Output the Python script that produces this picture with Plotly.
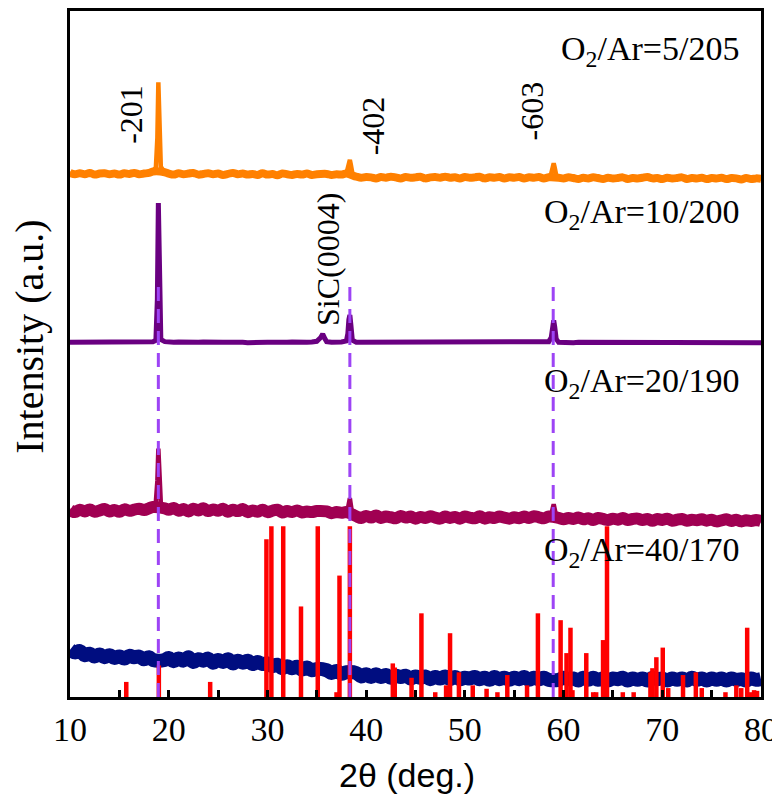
import plotly.graph_objects as go

# 2theta grid shared by the four measured patterns (denser around the peaks)
two_theta = [
    10.0, 10.5, 11.0, 11.5, 12.0, 12.5, 13.0, 13.5, 14.0, 14.5, 15.0, 15.5, 16.0, 16.5, 17.0, 17.5, 18.0,
    18.4, 18.7, 18.85, 18.95, 19.05, 19.2, 19.6,
    20.0, 20.5, 21.0, 21.5, 22.0, 22.5, 23.0, 23.5, 24.0, 24.5, 25.0, 25.5, 26.0, 26.5, 27.0, 27.5,
    28.0, 28.5, 29.0, 29.5, 30.0, 30.5, 31.0, 31.5, 32.0, 32.5, 33.0, 33.5, 34.0, 34.5, 35.0,
    35.4, 35.6, 35.8,
    36.0, 36.5, 37.0, 37.5, 38.0,
    38.15, 38.25, 38.35, 38.45, 38.6,
    39.0, 39.5, 40.0, 40.5, 41.0, 41.5, 42.0, 42.5, 43.0, 43.5, 44.0, 44.5, 45.0, 45.5, 46.0, 46.5,
    47.0, 47.5, 48.0, 48.5, 49.0, 49.5, 50.0, 50.5, 51.0, 51.5, 52.0, 52.5, 53.0, 53.5, 54.0, 54.5,
    55.0, 55.5, 56.0, 56.5, 57.0, 57.5, 58.0, 58.5,
    58.75, 58.9, 59.0, 59.1, 59.25,
    59.5, 60.0, 60.5, 61.0, 61.5, 62.0, 62.5, 63.0, 63.5, 64.0, 64.5, 65.0, 65.5, 66.0, 66.5, 67.0,
    67.5, 68.0, 68.5, 69.0, 69.5, 70.0, 70.5, 71.0, 71.5, 72.0, 72.5, 73.0, 73.5, 74.0, 74.5, 75.0,
    75.5, 76.0, 76.5, 77.0, 77.5, 78.0, 78.5, 79.0, 79.5, 80.0,
]

# O2/Ar = 5/205
int_5_205 = [
    76.4, 76.2, 76.35, 76.2, 76.4, 76.15, 76.3, 76.35, 76.2, 76.3, 76.15, 76.35, 76.25, 76.4, 76.2, 76.3, 76.4,
    76.6, 77.2, 81.5, 89.6, 82.2, 77.3, 76.5,
    76.3, 76.15, 76.35, 76.2, 76.3, 76.4, 76.15, 76.25, 76.35, 76.2,
    76.3, 76.1, 76.25, 76.4, 76.2, 76.3, 76.15, 76.25, 76.1, 76.35,
    76.15, 76.25, 76.05, 76.3, 76.2, 76.1, 76.25, 76.15, 76.3, 76.1, 76.2,
    76.15, 76.25, 76.1,
    76.25, 76.1, 76.2, 76.15, 76.3,
    77.0, 78.0, 78.3, 77.6, 76.4,
    75.85, 75.7, 75.8, 75.75, 75.6, 75.8, 75.7, 75.85, 75.75, 75.6,
    75.8, 75.7, 75.75, 75.85, 75.6, 75.75, 75.8, 75.7, 75.85, 75.7,
    75.75, 75.6, 75.8, 75.7, 75.75, 75.85, 75.6, 75.75, 75.7, 75.8,
    75.6, 75.75, 75.7, 75.8, 75.6, 75.75, 75.7, 75.8, 75.6, 75.75,
    76.3, 77.4, 77.8, 77.2, 76.1,
    75.7, 75.6, 75.75, 75.65, 75.5, 75.7, 75.6, 75.75, 75.65, 75.5,
    75.7, 75.6, 75.65, 75.75, 75.5, 75.65, 75.6, 75.7, 75.8, 75.6,
    75.65, 75.5, 75.7, 75.6, 75.65, 75.75, 75.5, 75.65, 75.6, 75.7,
    75.5, 75.65, 75.6, 75.7, 75.5, 75.65, 75.6, 75.45, 75.65, 75.5,
    75.6, 75.55,
]

# O2/Ar = 10/200
int_10_200 = [
    51.7, 51.7, 51.75, 51.7, 51.7, 51.7, 51.65, 51.7, 51.7, 51.75, 51.7, 51.7, 51.7, 51.65, 51.7, 51.7, 51.75,
    51.8, 52.0, 58.0, 72.0, 58.5, 52.1, 51.8,
    51.7, 51.7, 51.75, 51.7, 51.65, 51.7, 51.7, 51.75, 51.7, 51.7,
    51.65, 51.7, 51.7, 51.75, 51.7, 51.7, 51.65, 51.7, 51.7, 51.75,
    51.7, 51.7, 51.65, 51.7, 51.7, 51.75, 51.7, 51.7, 51.7, 51.75, 51.85,
    52.4, 52.9, 52.3,
    51.8, 51.7, 51.7, 51.75, 51.9,
    53.0, 55.0, 55.7, 54.3, 52.0,
    51.7, 51.7, 51.75, 51.7, 51.65, 51.7, 51.7, 51.75, 51.7, 51.7,
    51.65, 51.7, 51.7, 51.75, 51.7, 51.65, 51.7, 51.7, 51.75, 51.7,
    51.7, 51.65, 51.7, 51.7, 51.75, 51.7, 51.7, 51.65, 51.7, 51.7,
    51.75, 51.7, 51.65, 51.7, 51.7, 51.75, 51.7, 51.7, 51.7, 51.8,
    52.4, 54.2, 54.9, 54.0, 52.2,
    51.7, 51.65, 51.7, 51.65, 51.7, 51.7, 51.65, 51.7, 51.65, 51.7,
    51.65, 51.7, 51.65, 51.7, 51.65, 51.65, 51.7, 51.65, 51.7, 51.65,
    51.65, 51.7, 51.65, 51.65, 51.7, 51.65, 51.65, 51.7, 51.65, 51.65,
    51.7, 51.65, 51.65, 51.7, 51.65, 51.65, 51.7, 51.65, 51.65, 51.65,
    51.65, 51.65,
]

# O2/Ar = 20/190
int_20_190 = [
    27.25, 26.95, 27.3, 27.05, 27.35, 27.0, 27.2, 27.4, 27.05, 27.25, 27.0, 27.35, 27.15, 27.3, 27.45, 27.25, 27.5,
    27.7, 28.5, 31.5, 36.2, 31.0, 28.3, 27.5,
    27.3, 27.55, 27.15, 27.4, 27.05, 27.45, 27.2, 27.5, 27.1, 27.35,
    27.15, 27.45, 27.0, 27.3, 27.1, 27.4, 26.95, 27.2, 27.0, 27.3,
    26.95, 27.15, 27.3, 26.9, 27.1, 26.95, 27.2, 26.9, 27.05, 26.95, 27.1,
    26.9, 27.05, 26.9,
    27.05, 26.8, 26.95, 26.85, 26.95,
    27.5, 28.5, 29.0, 28.0, 26.6,
    26.35, 26.1, 26.4, 26.15, 26.45, 26.1, 26.3, 26.2, 26.05, 26.4,
    26.15, 26.3, 26.0, 26.25, 26.1, 26.35, 26.15, 26.0, 26.3, 26.1,
    26.25, 26.0, 26.3, 26.15, 26.05, 26.35, 26.0, 26.2, 26.1, 26.3,
    26.15, 26.0, 26.2, 26.05, 26.3, 26.1, 26.35, 26.2, 26.05, 26.3,
    26.6, 27.5, 28.1, 27.4, 26.4,
    26.1, 25.9, 26.1, 25.95, 26.15, 25.9, 26.05, 25.8, 26.1, 25.95,
    25.8, 26.0, 25.85, 26.1, 25.8, 25.95, 26.0, 25.8, 25.95, 25.7,
    25.95, 25.8, 26.0, 25.7, 25.85, 25.95, 25.7, 25.85, 25.75, 25.9,
    25.7, 25.85, 25.6, 25.75, 25.9, 25.65, 25.85, 25.6, 25.75, 25.65,
    25.8, 25.65,
]

# O2/Ar = 40/170
int_40_170 = [
    6.9, 6.5, 6.7, 6.1, 6.3, 5.9, 6.2, 5.8, 6.1, 5.7, 5.9, 5.6, 6.0, 5.8, 5.9, 5.5, 5.8,
    5.4, 5.9, 5.5, 5.8, 5.3, 5.9, 5.4,
    5.7, 5.2, 5.6, 5.3, 5.8, 5.1, 5.5, 5.3, 5.6, 5.0,
    5.4, 5.1, 5.5, 4.9, 5.3, 5.0, 5.3, 4.8, 5.1, 4.8,
    4.9, 4.5, 4.7, 4.2, 4.5, 4.2, 4.4, 4.0, 4.3, 3.9, 4.1,
    3.8, 4.1, 3.7,
    3.9, 3.5, 3.8, 3.4, 3.6,
    3.3, 3.6, 3.2, 3.5, 3.2,
    3.5, 3.0, 3.3, 2.9, 3.3, 2.9, 3.2, 2.8, 3.1, 2.9,
    3.1, 2.7, 3.0, 2.8, 3.0, 2.6, 2.9, 2.7, 3.0, 2.6,
    2.9, 2.6, 2.8, 2.7, 2.9, 2.6, 2.8, 2.5, 2.9, 2.6,
    2.8, 2.5, 2.8, 2.6, 2.9, 2.5, 2.8, 2.6, 2.8, 2.5,
    2.8, 2.5, 2.8, 2.6, 2.7,
    2.5, 2.8, 2.6, 2.7, 2.4, 2.8, 2.5, 2.8, 2.5, 2.7,
    2.4, 2.7, 2.6, 2.8, 2.4, 2.7, 2.5, 2.7, 2.4, 2.8,
    2.6, 2.7, 2.4, 2.7, 2.5, 2.7, 2.4, 2.8, 2.5, 2.7,
    2.4, 2.7, 2.5, 2.7, 2.4, 2.7, 2.5, 2.6, 2.4, 2.7,
    2.5, 2.6,
]

# standard card (red sticks)
ref_pos = [15.7, 19.0, 24.2, 29.9, 30.4, 31.6, 33.4, 35.1, 37.0, 37.3, 38.35, 42.7, 42.9, 44.6,
           45.6, 47.0, 48.1, 48.5, 49.4, 50.8, 52.2, 53.3, 54.3, 56.3, 57.4, 59.7, 60.3, 60.7,
           60.9, 62.3, 63.0, 63.3, 64.0, 64.4, 66.0, 67.1, 68.8, 69.0, 69.4, 70.05, 70.6, 72.1,
           73.4, 74.0, 76.4, 77.5, 78.0, 78.6, 79.0, 79.3, 79.6]
ref_int = [2.2, 4.6, 2.2, 23.0, 24.9, 24.9, 13.2, 24.9, 0.7, 17.7, 24.9, 4.9, 4.3, 2.8,
           12.2, 0.7, 1.7, 9.3, 3.6, 1.7, 1.2, 0.7, 3.2, 1.7, 12.2, 11.2, 6.4, 10.1,
           1.0, 6.4, 0.7, 0.7, 8.3, 24.9, 0.7, 0.7, 3.6, 4.2, 5.8, 7.2, 1.3, 3.2,
           3.6, 1.3, 0.7, 1.7, 1.3, 10.1, 0.7, 1.0, 0.9]

# Ga2O3 planes marked with dashed lines
plane_pos = [18.95, 38.35, 58.95]
plane_labels = ["-201", "-402", "-603"]
sample_labels = ["O<sub>2</sub>/Ar=5/205", "O<sub>2</sub>/Ar=10/200",
                 "O<sub>2</sub>/Ar=20/190", "O<sub>2</sub>/Ar=40/170"]

# 2theta windows holding the diffraction peaks
peak_windows = [(18.6, 19.4), (35.3, 35.9), (38.1, 38.7), (58.7, 59.35)]

serif = "Liberation Serif"


def off_peak(x):
    return all(not (a < x < b) for a, b in peak_windows)


fig = go.Figure()
# (values, colour, width of the noisy band, width of the peak line)
curves = [(int_40_170, "#000d80", 14, None), (int_20_190, "#a00052", 12, 4.5),
          (int_10_200, "#6a0081", None, 5), (int_5_205, "#ff8000", 8, 4.5)]
for yy, col, band_w, peak_w in curves:
    if band_w:
        bx = [x for x in two_theta if off_peak(x)]
        by = [y for x, y in zip(two_theta, yy) if off_peak(x)]
        fig.add_trace(go.Scatter(x=bx, y=by, mode="lines",
                                 line=dict(color=col, width=band_w, shape="spline", smoothing=1),
                                 showlegend=False))
    if peak_w:
        fig.add_trace(go.Scatter(x=two_theta, y=yy, mode="lines",
                                 line=dict(color=col, width=peak_w), showlegend=False))

# sticks as line segments so they sit on top of the curves
sx, sy = [], []
for p, h in zip(ref_pos, ref_int):
    sx += [p, p, None]
    sy += [0, h, None]
fig.add_trace(go.Scatter(x=sx, y=sy, mode="lines",
                         line=dict(color="#ff0000", width=4.5), showlegend=False))

dx, dy = [], []
for p in plane_pos:
    dx += [p, p, None]
    dy += [0, 60, None]
fig.add_trace(go.Scatter(x=dx, y=dy, mode="lines",
                         line=dict(color="#9d44f5", width=3, dash="14px,8px"), showlegend=False))

for txt, yv in zip(sample_labels, [94.2, 70.4, 45.8, 21.2]):
    fig.add_annotation(x=78.0, y=yv, text=txt, showarrow=False, xanchor="right",
                       yanchor="middle", font=dict(family=serif, size=34, color="black"))

for txt, xv, yv in zip(plane_labels + ["SiC(0004)"], [16.1, 40.7, 56.8, 36.2],
                       [84.9, 83.2, 85.5, 63.8]):
    fig.add_annotation(x=xv, y=yv, text=txt, showarrow=False, textangle=-90,
                       xanchor="center", yanchor="middle",
                       font=dict(family=serif, size=32, color="black"))

fig.add_annotation(x=-0.058, y=0.525, xref="paper", yref="paper", text="Intensity (a.u.)",
                   showarrow=False, textangle=-90, xanchor="center", yanchor="middle",
                   font=dict(family=serif, size=40, color="black"))
fig.add_annotation(x=0.488, y=-0.114, xref="paper", yref="paper", text="2θ (deg.)",
                   showarrow=False, xanchor="center", yanchor="middle",
                   font=dict(family="Liberation Sans", size=34, color="black"))

fig.update_xaxes(range=[10, 80], dtick=10, ticks="inside", ticklen=7, tickwidth=2.5,
                 tickcolor="black", showline=True, linecolor="black", linewidth=3, mirror=True,
                 showgrid=False, zeroline=False,
                 minor=dict(dtick=5, ticks="inside", ticklen=7, tickwidth=2.5, tickcolor="black"),
                 tickfont=dict(family=serif, size=34, color="black"))
fig.update_yaxes(range=[0, 100], showticklabels=False, ticks="", showline=True,
                 linecolor="black", linewidth=3, mirror=True, showgrid=False, zeroline=False)
# page body adds 8px around the figure, so the figure is 8px smaller than the window
fig.update_layout(width=772, height=789, autosize=False,
                  margin=dict(l=62, r=19, t=0, b=100),
                  plot_bgcolor="white", paper_bgcolor="white")
fig.write_html("out.html")
